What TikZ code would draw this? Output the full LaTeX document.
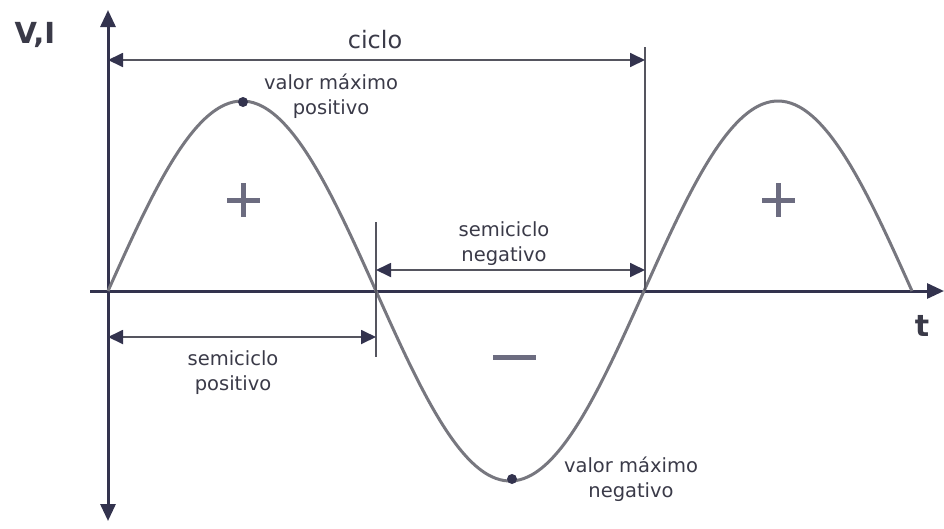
\documentclass[tikz,border=0pt]{standalone}
\usepackage{fontspec}
\setmainfont{DejaVu Sans}
\usetikzlibrary{arrows.meta}
\definecolor{axisc}{HTML}{33334E}
\definecolor{wavec}{HTML}{77777F}
\definecolor{dimc}{HTML}{55555F}
\definecolor{textc}{HTML}{3A3A48}
\definecolor{signc}{HTML}{6C6C80}
\begin{document}
\begin{tikzpicture}[x=1pt,y=-1pt,
  axisline/.style={draw=axisc,line width=3pt},
  bigtip/.style={-{Triangle[length=17pt,width=15pt,color=axisc]}},
  dimarrow/.style={draw=dimc,line width=1.8pt,{Triangle[length=15pt,width=14pt,color=axisc]}-{Triangle[length=15pt,width=14pt,color=axisc]}},
  marker/.style={draw=dimc,line width=2.2pt},
  wave/.style={draw=wavec,line width=3pt},
  lbl/.style={text=textc,align=center,inner sep=0pt,font=\fontsize{19.5}{25}\selectfont},
  sign/.style={draw=signc,line width=5pt},
  dot/.style={circle,fill=axisc,inner sep=0pt,minimum size=10pt}]
\useasboundingbox (0,0) rectangle (944,528);
% coordinates
\coordinate (O) at (108,291);
\coordinate (ytop) at (108,10);
\coordinate (ybot) at (108,521);
\coordinate (xleft) at (90,291);
\coordinate (xright) at (944,291);
\coordinate (z1) at (376,291);
\coordinate (z2) at (645,291);
% axes
\draw[axisline,bigtip] (O) -- (ytop);
\draw[axisline,bigtip] (O) -- (ybot);
\draw[axisline,bigtip] (xleft) -- (xright);
% wave
\draw[wave,domain=108:912,samples=200,smooth,variable=\x] plot ({\x},{291-190*sin((\x-108)/268*180)});
% marker lines
\coordinate (m1t) at (376,222);
\coordinate (m1b) at (376,357);
\coordinate (m2t) at (645,47);
\draw[marker] (m1t) -- (m1b);
\draw[marker] (m2t) -- (z2);
% dimension arrows
\coordinate (ca) at (108,60);
\coordinate (cb) at (645,60);
\draw[dimarrow] (ca) -- (cb);
\coordinate (na) at (376,270);
\coordinate (nb) at (645,270);
\draw[dimarrow] (na) -- (nb);
\coordinate (pa) at (108,337);
\coordinate (pb) at (376,337);
\draw[dimarrow] (pa) -- (pb);
% dots
\node[dot] (maxp) at (243,102) {};
\node[dot] (maxn) at (512,479) {};
% labels
\node[text=textc,inner sep=0pt,font=\fontsize{24}{28}\selectfont] (ciclo) at (375,40) {ciclo};
\node[lbl] (vmp) at (331,96) {valor máximo\\positivo};
\node[lbl] (sn) at (504,244) {semiciclo\\negativo};
\node[lbl] (sp) at (233,373) {semiciclo\\positivo};
\node[lbl] (vmn) at (631,479) {valor máximo\\negativo};
\node[text=textc,inner sep=0pt,font=\bfseries\fontsize{29}{32}\selectfont] (vi) at (35,35) {V,I};
\node[text=textc,inner sep=0pt,font=\bfseries\fontsize{30}{32}\selectfont] (t) at (922,326) {t};
% signs
\draw[sign] (227,200) -- (260,200) (243.5,183) -- (243.5,217);
\draw[sign] (762,200) -- (795,200) (778.5,183) -- (778.5,217);
\draw[sign] (493,357) -- (536,357);
\end{tikzpicture}
\end{document}
